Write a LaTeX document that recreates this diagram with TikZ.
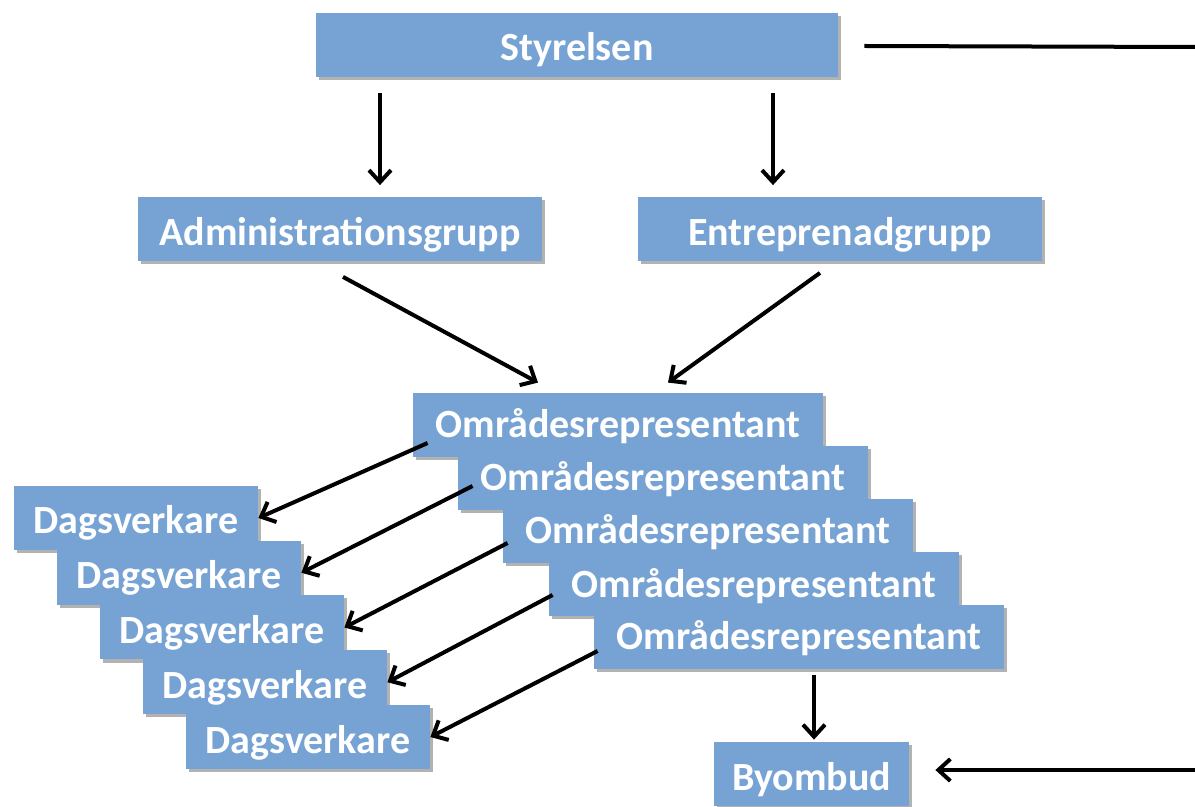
\documentclass[tikz,border=0pt]{standalone}
\usepackage{fontspec}
\setmainfont{Carlito}
\usetikzlibrary{arrows.meta,shadows}
\definecolor{boxblue}{RGB}{118,163,211}
\newcommand\sx[1]{\scalebox{1.0}[1]{#1}}
\tikzset{
  box/.style={fill=boxblue, draw=none, text=white, inner sep=0pt,
    font=\fontsize{20}{24}\selectfont\bfseries,
    text height=20pt, text depth=4pt, minimum height=32pt,
    drop shadow={shadow xshift=1.5pt, shadow yshift=-1.5pt, fill=black, opacity=0.3}},
  omr/.style={box, minimum width=205pt, text height=17pt, text depth=4pt},
  dag/.style={box, minimum width=122pt},
  arr/.style={line width=2pt, -{Straight Barb[length=6pt,width=11pt]}},
  plain/.style={line width=2pt}
}
\begin{document}
\begin{tikzpicture}[x=0.5pt,y=-0.5pt]
\useasboundingbox (0,0) rectangle (1195,807);
% top level
\node[box, minimum width=261pt] (sty) at (577,45) {\sx{Styrelsen}};
\node[box, minimum width=202pt] (adm) at (340,229.5) {\sx{Administrationsgrupp}};
\node[box, minimum width=202pt] (ent) at (840,229.5) {\sx{Entreprenadgrupp}};
% Omr stack
\node[omr] (o1) at (618,425) {\sx{Områdesrepresentant}};
\node[omr] (o2) at (663,478) {\sx{Områdesrepresentant}};
\node[omr] (o3) at (708,531) {\sx{Områdesrepresentant}};
\node[omr] (o4) at (754,584) {\sx{Områdesrepresentant}};
\node[omr] (o5) at (799,637) {\sx{Områdesrepresentant}};
% Dagsverkare stack
\node[dag] (d1) at (136,518) {\sx{Dagsverkare}};
\node[dag] (d2) at (179,572.75) {\sx{Dagsverkare}};
\node[dag] (d3) at (222,627.5) {\sx{Dagsverkare}};
\node[dag] (d4) at (265,682.25) {\sx{Dagsverkare}};
\node[dag] (d5) at (308,737) {\sx{Dagsverkare}};
% Byombud
\node[box, minimum width=97.5pt] (byo) at (811.5,774) {\sx{Byombud}};
% free ends at the right edge
\coordinate (rtop) at (1195,47);
\coordinate (rbot) at (1195,770);
% connectors
\draw[arr] ([shift={(-98.5pt,-8pt)}]sty.south) -- ([shift={(20pt,6pt)}]adm.north);
\draw[arr] ([shift={(98pt,-8pt)}]sty.south) -- ([shift={(-33.5pt,6pt)}]ent.north);
\draw[arr] ([shift={(1.5pt,-7.5pt)}]adm.south) -- ([shift={(-40pt,5pt)}]o1.north);
\draw[arr] ([shift={(-10pt,-5.5pt)}]ent.south) -- ([shift={(25pt,5pt)}]o1.north);
\draw[arr] ([shift={(7.5pt,-9pt)}]o1.west) -- (d1.east);
\draw[arr] ([shift={(7.5pt,-4pt)}]o2.west) -- (d2.east);
\draw[arr] ([shift={(2.5pt,-6pt)}]o3.west) -- (d3.east);
\draw[arr] ([shift={(2pt,-5.5pt)}]o4.west) -- (d4.east);
\draw[arr] ([shift={(2pt,-7pt)}]o5.west) -- (d5.east);
\draw[arr] ([shift={(7.5pt,-3pt)}]o5.south) -- ([shift={(1.25pt,1pt)}]byo.north);
\draw[plain] ([shift={(13pt,-0.5pt)}]sty.east) -- (rtop);
\draw[arr] (rbot) -- ([shift={(13pt,2pt)}]byo.east);
\end{tikzpicture}
\end{document}
